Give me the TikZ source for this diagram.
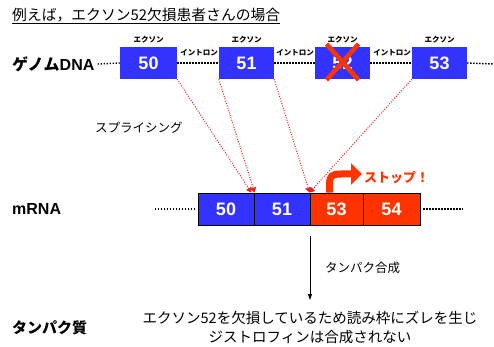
\documentclass[tikz,border=0pt]{standalone}
\usepackage{fontspec}
\setmainfont{Liberation Sans}
\newfontfamily\jp{Noto Sans CJK JP}
\usetikzlibrary{arrows.meta}
\definecolor{exblue}{RGB}{51,51,255}
\definecolor{exred}{RGB}{255,51,0}
\definecolor{dotred}{RGB}{240,30,30}
\begin{document}
\begin{tikzpicture}[x=1pt,y=-1pt,
  gbox/.style={fill=exblue,minimum height=32pt,inner sep=0pt,text=white,font=\bfseries\fontsize{18}{18}\selectfont},
  mbox/.style={draw=black,line width=0.8pt,minimum height=32pt,inner sep=0pt,text=white,font=\bfseries\fontsize{18}{18}\selectfont},
  exlab/.style={font=\jp\bfseries\fontsize{7.5}{8}\selectfont,inner sep=0pt},
  dotline/.style={line width=1.4pt,dash pattern=on 1.4pt off 1.6pt},
  splice/.style={dotred,line width=1pt,dash pattern=on 1pt off 1.5pt,-{Triangle[length=5pt,width=6pt]}},
  lab/.style={anchor=west,inner sep=0pt}
  ]
\useasboundingbox (0,0) rectangle (494,347);
% title
\node[lab,font=\jp\fontsize{14.8}{15}\selectfont] (title) at (12,15) {例えば，エクソン52欠損患者さんの場合};
\draw[line width=0.8pt] ([yshift=-1pt]title.south west) -- ([yshift=-1pt]title.south east);
% genome DNA
\node[lab,font=\bfseries\fontsize{16}{16}\selectfont] (dna) at (12,64) {{\jp ゲノム}DNA};
\node[gbox,minimum width=57pt] (g50) at (148.5,63) {50};
\node[gbox,minimum width=55pt] (g51) at (246.5,63) {51};
\node[gbox,minimum width=55pt] (g52) at (342.5,63) {52};
\node[gbox,minimum width=55pt] (g53) at (439.5,63) {53};
\coordinate (dnaend) at (494,64);
\draw[dotline] ([xshift=3pt]dna.east) -- (g50.west);
\draw[dotline] (g50.east) -- (g51.west);
\draw[dotline] (g51.east) -- (g52.west);
\draw[dotline] (g52.east) -- (g53.west);
\draw[dotline] (g53.east) -- (dnaend);
\draw[exred,line width=4.5pt] ([shift={(16,-19)}]g52.center) -- ([shift={(-16,17)}]g52.center);
\draw[exred,line width=4.5pt] ([shift={(-16,-19)}]g52.center) -- ([shift={(16,17)}]g52.center);
\foreach \g in {g50,g51,g52,g53}{
  \node[exlab] at ([yshift=7pt]\g.north) {エクソン};
}
\node[exlab] (i1) at (199,53) {イントロン};
\node[exlab] (i2) at (295,53) {イントロン};
\node[exlab] (i3) at (392,53) {イントロン};
% splicing label
\node[lab,font=\jp\fontsize{12.5}{13}\selectfont] (spl) at (95,128) {スプライシング};
% mRNA
\node[lab,font=\bfseries\fontsize{16}{16}\selectfont] (mrna) at (12,209) {mRNA};
\node[mbox,fill=exblue,minimum width=56pt] (m50) at (226,209) {50};
\node[mbox,fill=exblue,minimum width=56pt] (m51) at (282,209) {51};
\node[mbox,fill=exred,minimum width=53pt] (m53) at (336.5,209) {53};
\node[mbox,fill=exred,minimum width=57pt] (m54) at (391.5,209) {54};
\coordinate (ml) at (155,209);
\coordinate (mr) at (463,209);
\draw[dotline] (ml) -- ([xshift=-2pt]m50.west);
\draw[dotline] ([xshift=3pt]m54.east) -- (mr);
% splicing arrows
\draw[splice] (g50.south east) -- ([xshift=-3pt]m50.north east);
\draw[splice] (g51.south west) -- ([xshift=1pt]m51.north west);
\draw[splice] (g51.south east) -- (m53.north west);
\draw[splice] (g53.south west) -- (m53.north west);
% stop arrow
\coordinate (s0) at ([xshift=-7pt]m53.north);
\coordinate (s1) at (362,174);
\draw[exred,line width=7pt,-{Triangle[length=11pt,width=21pt]}] (s0) -- ++(0,-8) .. controls +(0,-9) and (332,174) .. (341,174) -- (s1);
\node[lab,text=exred,font=\jp\bfseries\fontsize{13}{13}\selectfont] (stop) at (364,178) {ストップ！};
% protein synthesis
\coordinate (pa) at (310,236);
\coordinate (pb) at (310,300);
\draw[line width=0.8pt,-{Triangle[length=6pt,width=4pt]}] (pa) -- (pb);
\node[lab,font=\jp\fontsize{12.5}{13}\selectfont] (syn) at (325,268) {タンパク合成};
\node[lab,font=\jp\bfseries\fontsize{15}{15}\selectfont] (prot) at (12,328) {タンパク質};
\node[font=\jp\fontsize{14.5}{15}\selectfont,inner sep=0pt] (t1) at (310,318) {エクソン52を欠損しているため読み枠にズレを生じ};
\node[font=\jp\fontsize{14.5}{15}\selectfont,inner sep=0pt] (t2) at (310,337) {ジストロフィンは合成されない};
\end{tikzpicture}
\end{document}
